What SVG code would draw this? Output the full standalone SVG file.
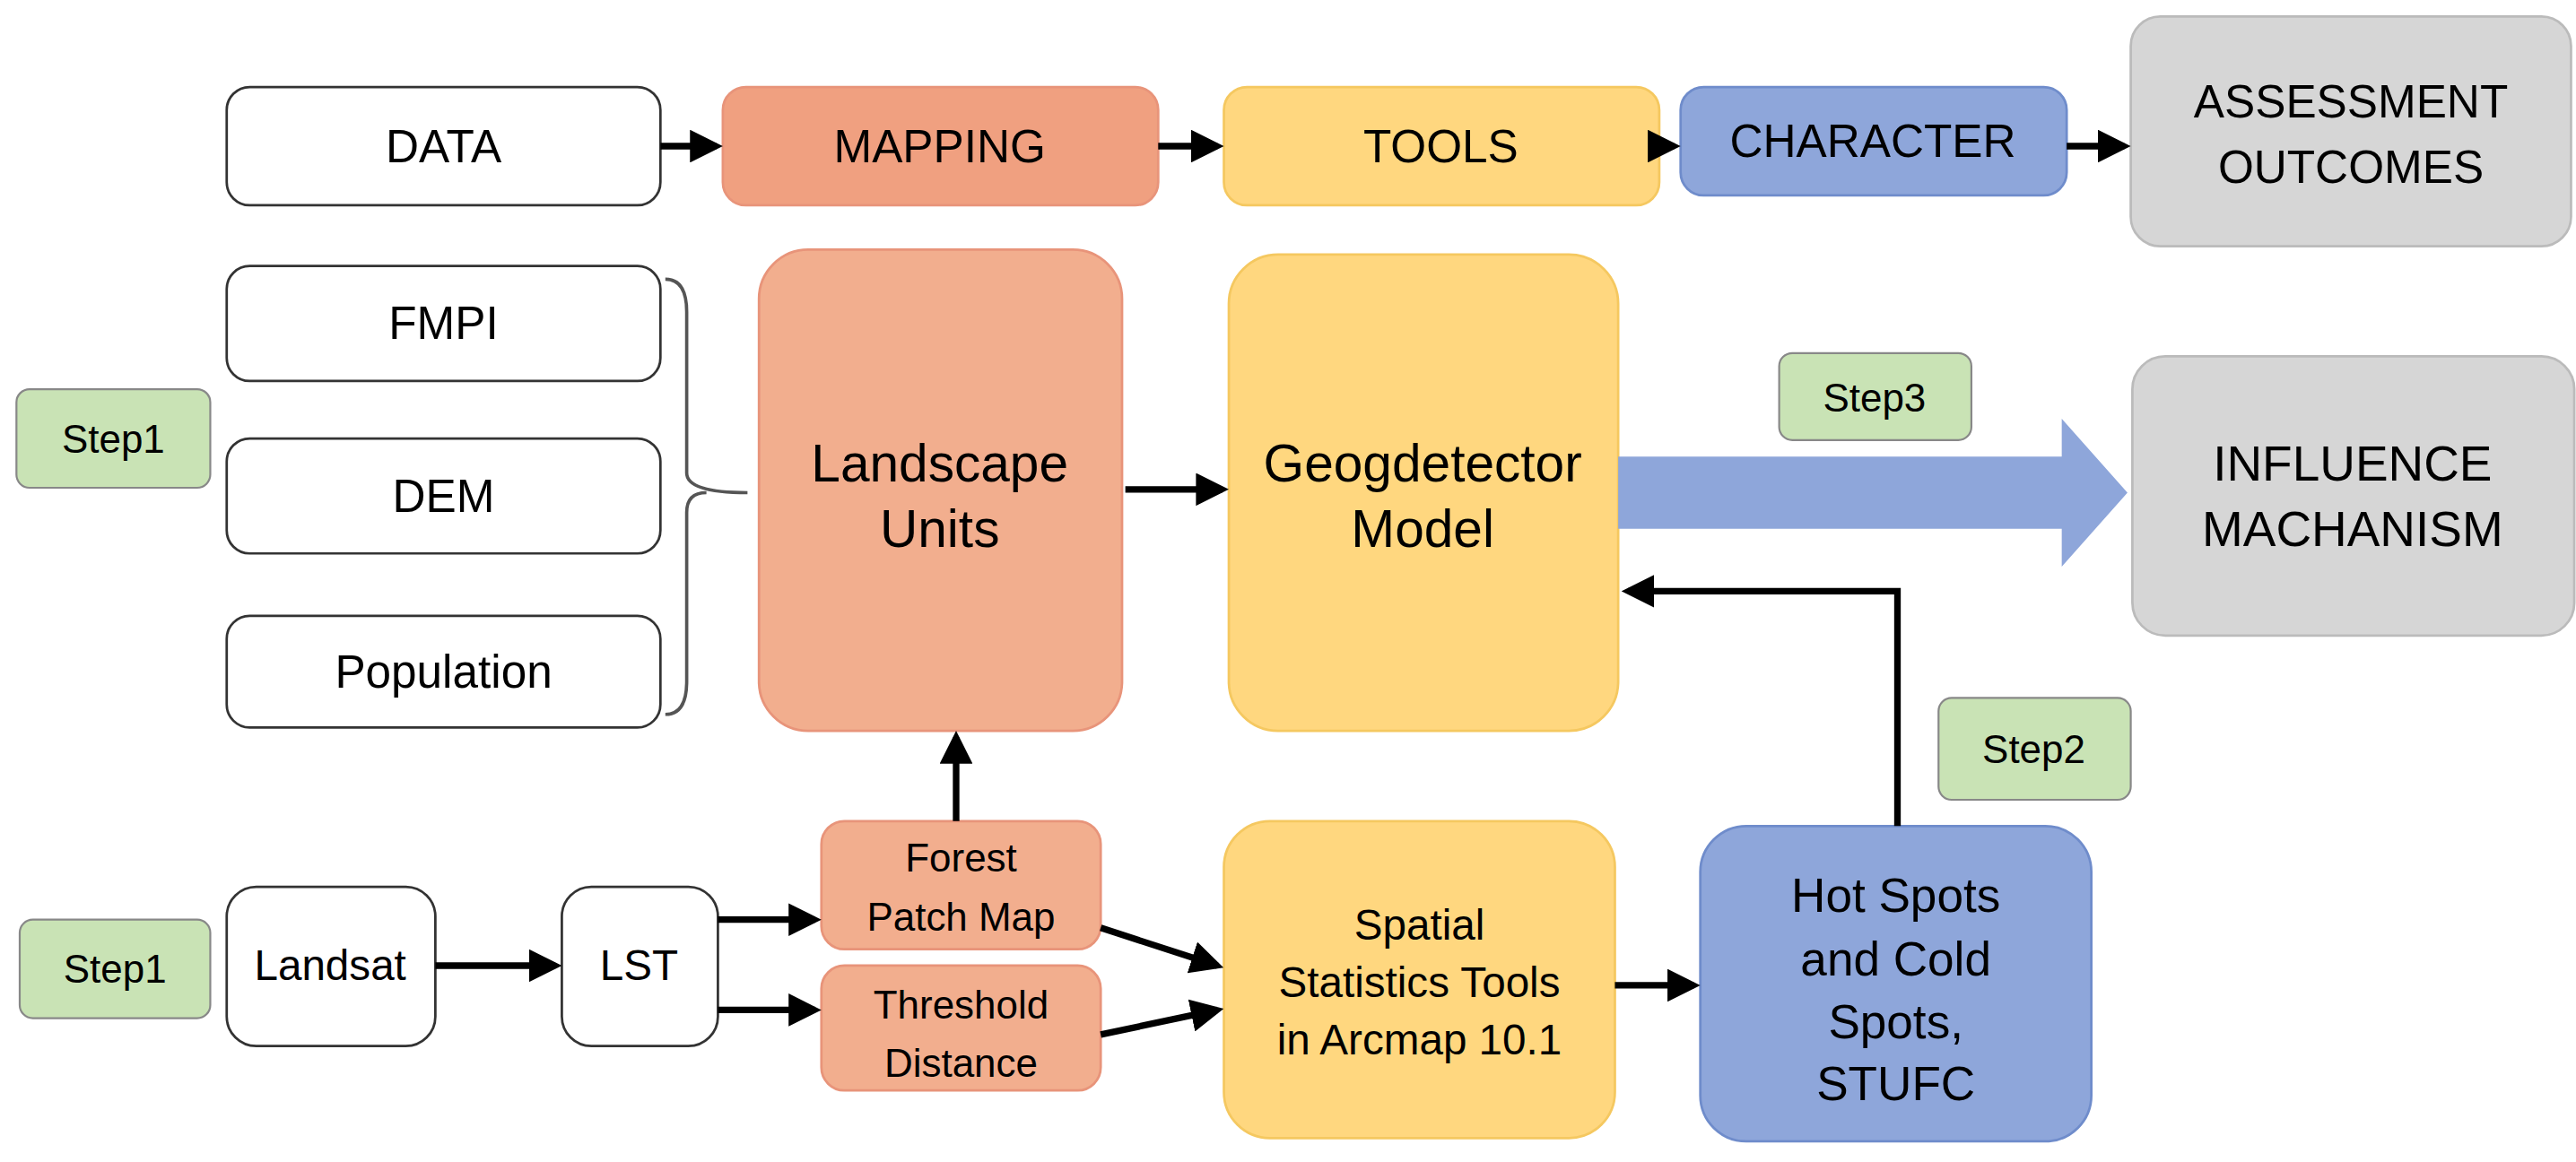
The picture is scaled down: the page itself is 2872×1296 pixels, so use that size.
<svg xmlns="http://www.w3.org/2000/svg" width="2872" height="1296" viewBox="0 0 2872 1296">
<style>
text{font-family:"Liberation Sans",Arial,sans-serif;fill:#000;text-anchor:middle;dominant-baseline:central}
.w{fill:#fff;stroke:#333;stroke-width:1.5}
.s{fill:#F2AE8E;stroke:#E8947A;stroke-width:1.5}
.y{fill:#FFD77F;stroke:#F5C860;stroke-width:1.5}
.b{fill:#8EA6DA;stroke:#6F8CCB;stroke-width:1.5}
.g{fill:#D6D6D6;stroke:#BBB;stroke-width:1.5}
.st{fill:#C9E3B5;stroke:#888;stroke-width:1.2}
.c{stroke:#000;stroke-width:4;fill:none;marker-end:url(#a)}
</style>
<defs><marker id="a" markerWidth="5" markerHeight="5" refX="4" refY="2.5" orient="auto"><path d="M0,0L5,2.5L0,5z" fill="#000"/></marker></defs>
<g transform="scale(1.8316)">
<g id="data"><rect class="w" x="138" y="53" width="264" height="72" rx="14"/><text x="270" y="89" font-size="28">DATA</text></g>
<g id="mapping"><rect class="s" x="440" y="53" width="265" height="72" rx="14" style="fill:#F0A080"/><text x="572" y="89" font-size="28">MAPPING</text></g>
<g id="tools"><rect class="y" x="745" y="53" width="265" height="72" rx="14"/><text x="877" y="89" font-size="28">TOOLS</text></g>
<g id="character"><rect class="b" x="1023" y="53" width="235" height="66" rx="14"/><text x="1140" y="86" font-size="28">CHARACTER</text></g>
<g id="assessment"><rect class="g" x="1297" y="10" width="268" height="140" rx="18"/><text x="1431" y="62" font-size="28">ASSESSMENT</text><text x="1431" y="102" font-size="28">OUTCOMES</text></g>
<g id="fmpi"><rect class="w" x="138" y="162" width="264" height="70" rx="14"/><text x="270" y="197" font-size="28">FMPI</text></g>
<g id="dem"><rect class="w" x="138" y="267" width="264" height="70" rx="14"/><text x="270" y="302" font-size="28">DEM</text></g>
<g id="population"><rect class="w" x="138" y="375" width="264" height="68" rx="14"/><text x="270" y="409" font-size="28">Population</text></g>
<g id="step1a"><rect class="st" x="10" y="237" width="118" height="60" rx="8"/><text x="69" y="267" font-size="24">Step1</text></g>
<g id="landscape"><rect class="s" x="462" y="152" width="221" height="293" rx="30"/><text x="572" y="282" font-size="32">Landscape</text><text x="572" y="322" font-size="32">Units</text></g>
<g id="geog"><rect class="y" x="748" y="155" width="237" height="290" rx="30"/><text x="866" y="282" font-size="32">Geogdetector</text><text x="866" y="322" font-size="32">Model</text></g>
<g id="step3"><rect class="st" x="1083" y="215" width="117" height="53" rx="8"/><text x="1141" y="242" font-size="24">Step3</text></g>
<g id="influence"><rect class="g" x="1298" y="217" width="269" height="170" rx="20"/><text x="1432" y="282" font-size="30">INFLUENCE</text><text x="1432" y="322" font-size="30">MACHANISM</text></g>
<g id="step2"><rect class="st" x="1180" y="425" width="117" height="62" rx="8"/><text x="1238" y="456" font-size="24">Step2</text></g>
<g id="hotspots"><rect class="b" x="1035" y="503" width="238" height="192" rx="28"/><text x="1154" y="545" font-size="29">Hot Spots</text><text x="1154" y="584" font-size="29">and Cold</text><text x="1154" y="622" font-size="29">Spots,</text><text x="1154" y="660" font-size="29">STUFC</text></g>
<g id="step1b"><rect class="st" x="12" y="560" width="116" height="60" rx="8"/><text x="70" y="590" font-size="24">Step1</text></g>
<g id="landsat"><rect class="w" x="138" y="540" width="127" height="97" rx="18"/><text x="201" y="588" font-size="26">Landsat</text></g>
<g id="lst"><rect class="w" x="342" y="540" width="95" height="97" rx="18"/><text x="389" y="588" font-size="26">LST</text></g>
<g id="forest"><rect class="s" x="500" y="500" width="170" height="78" rx="14"/><text x="585" y="522" font-size="24">Forest</text><text x="585" y="558" font-size="24">Patch Map</text></g>
<g id="threshold"><rect class="s" x="500" y="588" width="170" height="76" rx="14"/><text x="585" y="612" font-size="24">Threshold</text><text x="585" y="647" font-size="24">Distance</text></g>
<g id="spatial"><rect class="y" x="745" y="500" width="238" height="193" rx="28"/><text x="864" y="563" font-size="26">Spatial</text><text x="864" y="598" font-size="26">Statistics Tools</text><text x="864" y="633" font-size="26">in Arcmap 10.1</text></g>
<g id="connectors">
<path d="M405,170Q418,170 418,190V288Q418,300 455,300M405,435Q418,435 418,415V312Q418,300 430,300" fill="none" stroke="#555" stroke-width="2"/>
<path class="c" d="M402,89H436"/><path class="c" d="M705,89H741"/><path class="c" d="M1010,89H1019"/><path class="c" d="M1258,89H1293"/>
<path class="c" d="M685,298H744"/>
<path d="M985,278H1255V255L1295,300L1255,345V322H985z" fill="#8EA6DA"/>
<path class="c" d="M1155,503V360H991"/>
<path class="c" d="M265,588H338"/><path class="c" d="M437,560H496"/><path class="c" d="M437,615H496"/>
<path class="c" d="M582,500V449"/>
<path class="c" d="M670,565L741,588"/><path class="c" d="M670,630L741,615"/>
<path class="c" d="M983,600H1031"/>
</g>
</g>
</svg>
